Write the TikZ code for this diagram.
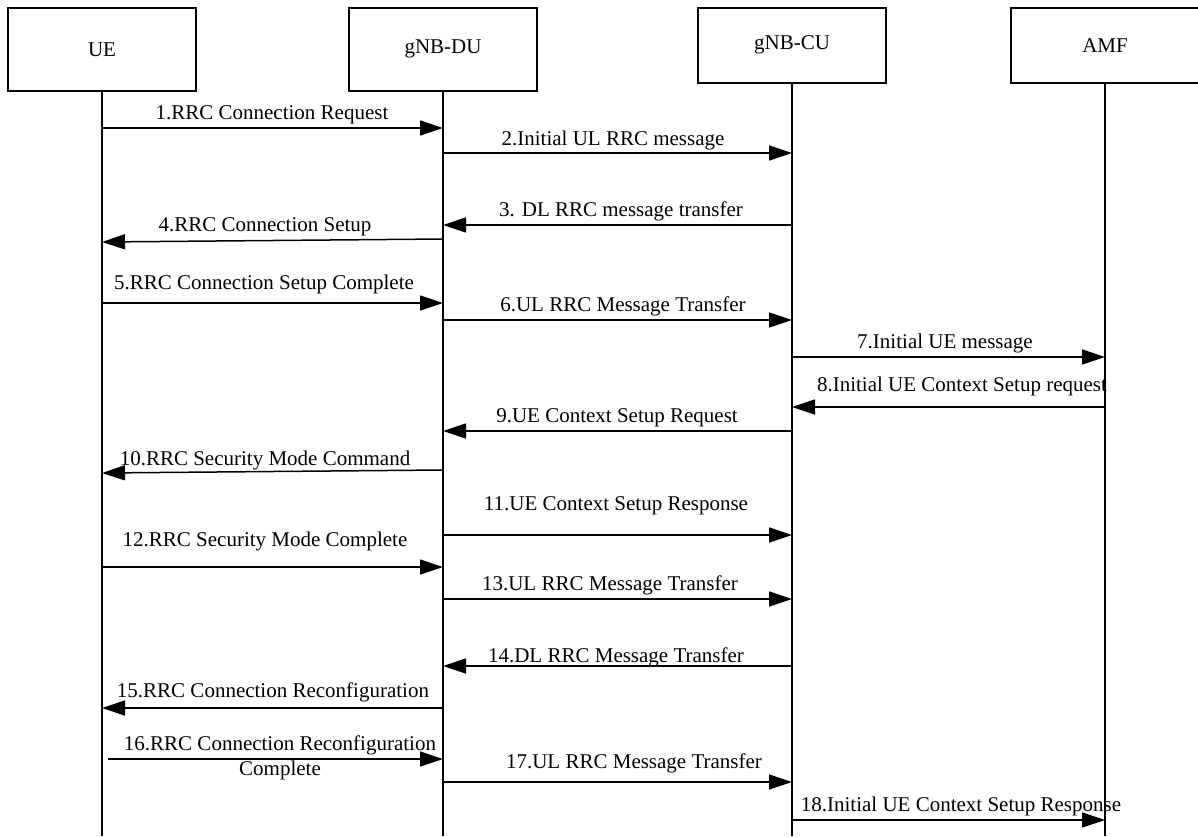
\documentclass[tikz,border=0pt]{standalone}
\usepackage{fontspec}
\setmainfont{Liberation Serif}
\usetikzlibrary{arrows.meta}
\begin{document}
\begin{tikzpicture}[x=1pt,y=-1pt,
  ent/.style={draw,line width=1.5pt,minimum width=188pt,inner sep=0pt,font=\fontsize{21}{23}\selectfont},
  life/.style={line width=1.5pt},
  msg/.style={line width=1.5pt,-{Triangle[length=23pt,width=15pt]}},
  lbl/.style={anchor=base,inner sep=0pt,font=\fontsize{21}{23}\selectfont}]
\useasboundingbox (0,0) rectangle (1198,836);
% entities
\node[ent,minimum height=83pt,anchor=north] (ue)  at (102,7) {UE};
\node[ent,minimum height=83pt,anchor=north] (du)  at (443,7) {gNB-DU};
\node[ent,minimum height=75pt,anchor=north] (cu)  at (792,7) {gNB-CU};
\node[ent,minimum height=75pt,anchor=north] (amf) at (1105,7) {AMF};
\coordinate (ueb) at (102,836);
\coordinate (dub) at (443,836);
\coordinate (cub) at (792,836);
\coordinate (amfb) at (1105,836);
\draw[life] (ue.south) -- (ueb);
\draw[life] (du.south) -- (dub);
\draw[life] (cu.south) -- (cub);
\draw[life] (amf.south) -- (amfb);
% messages
\draw[msg] (ue.south |- 0,128) -- (du.south |- 0,128);
\node[lbl] (l1) at (272,119) {1.RRC Connection Request};
\draw[msg] (du.south |- 0,153) -- (cu.south |- 0,153);
\node[lbl] (l2) at (613,145) {2.Initial UL RRC message};
\draw[msg] (cu.south |- 0,225) -- (du.south |- 0,225);
\node[lbl] (l3) at (621,216) {3. DL RRC message transfer};
\draw[msg] (du.south |- 0,239) -- (ue.south |- 0,242);
\node[lbl] (l4) at (265,231) {4.RRC Connection Setup};
\draw[msg] (ue.south |- 0,303) -- (du.south |- 0,303);
\node[lbl] (l5) at (264,289) {5.RRC Connection Setup Complete};
\draw[msg] (du.south |- 0,320) -- (cu.south |- 0,320);
\node[lbl] (l6) at (623,311) {6.UL RRC Message Transfer};
\draw[msg] (cu.south |- 0,357) -- (amf.south |- 0,357);
\node[lbl] (l7) at (945,348) {7.Initial UE message};
\draw[msg] (amf.south |- 0,407) -- (cu.south |- 0,407);
\node[lbl] (l8) at (962,391) {8.Initial UE Context Setup request};
\draw[msg] (cu.south |- 0,431) -- (du.south |- 0,431);
\node[lbl] (l9) at (617,422) {9.UE Context Setup Request};
\draw[msg] (du.south |- 0,470) -- (ue.south |- 0,473);
\node[lbl] (l10) at (265,465) {10.RRC Security Mode Command};
\draw[msg] (du.south |- 0,535) -- (cu.south |- 0,535);
\node[lbl] (l11) at (616,510) {11.UE Context Setup Response};
\draw[msg] (ue.south |- 0,567) -- (du.south |- 0,567);
\node[lbl] (l12) at (265,546) {12.RRC Security Mode Complete};
\draw[msg] (du.south |- 0,599) -- (cu.south |- 0,599);
\node[lbl] (l13) at (610,590) {13.UL RRC Message Transfer};
\draw[msg] (cu.south |- 0,666) -- (du.south |- 0,666);
\node[lbl] (l14) at (616,662) {14.DL RRC Message Transfer};
\draw[msg] (du.south |- 0,708) -- (ue.south |- 0,708);
\node[lbl] (l15) at (273,697) {15.RRC Connection Reconfiguration};
\coordinate (s16) at (108,759);
\draw[msg] (s16) -- (du.south |- 0,759);
\node[lbl] (l16) at (280,750) {16.RRC Connection Reconfiguration};
\node[lbl] (l16b) at (280,775) {Complete};
\draw[msg] (du.south |- 0,782) -- (cu.south |- 0,782);
\node[lbl] (l17) at (634,768) {17.UL RRC Message Transfer};
\draw[msg] (cu.south |- 0,820) -- (amf.south |- 0,820);
\node[lbl] (l18) at (961,811) {18.Initial UE Context Setup Response};
\end{tikzpicture}
\end{document}
